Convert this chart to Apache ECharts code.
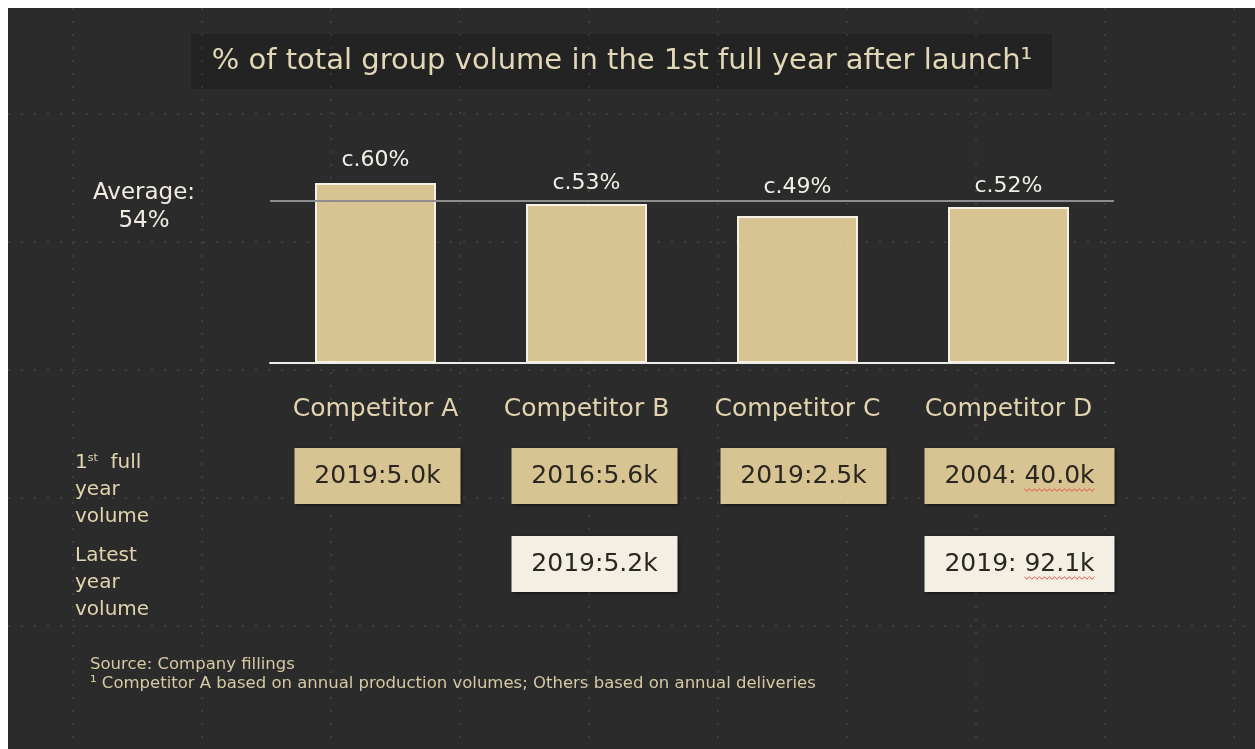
<!DOCTYPE html>
<html>
<head>
<meta charset="utf-8">
<title>Share of group volume in first full year</title>
<script src="https://cdn.jsdelivr.net/npm/echarts@6/dist/echarts.min.js"></script>
<style>
  html, body { margin: 0; padding: 0; background: #ffffff; }
  #chart { width: 1255px; height: 749px; }
</style>
</head>
<body>
<div id="chart"></div>
<script>
// ---- data ----
const competitors = ['Competitor A', 'Competitor B', 'Competitor C', 'Competitor D'];
const firstYearShare = [60, 53, 49, 52];          // % of total group volume, 1st full year
const averageShare = 54;
const firstYearVolume = ['2019:5.0k', '2016:5.6k', '2019:2.5k', '2004: 40.0k'];
const latestYearVolume = [null, '2019:5.2k', null, '2019: 92.1k'];
const volumeRows = ['first', 'latest'];

// ---- styling ----
const FONT = '"DejaVu Sans", "Open Sans", sans-serif';
const BG = '#2b2b2b';
const BEIGE = '#d8c493';
const CREAM = '#f3efe3';
const TEXT_BEIGE = '#e1d4ae';
const BOX_FONT = 25;
const boxShift = [2, 8, 6, 11];      // horizontal nudge of each volume box
const labelGap = [12, 10, 18, 10];   // gap between bar top and its value label

const measureCtx = document.createElement('canvas').getContext('2d');
function textWidth(t, size) {
  measureCtx.font = size + 'px ' + FONT;
  return measureCtx.measureText(t).width;
}

const boxes = [];
firstYearVolume.forEach((t, i) => { if (t) boxes.push({ cat: i, row: 0, text: t }); });
latestYearVolume.forEach((t, i) => { if (t) boxes.push({ cat: i, row: 1, text: t }); });

function renderBox(params, api) {
  const b = boxes[params.dataIndex];
  const c = api.coord([api.value(0), api.value(1)]);
  const cx = c[0] + boxShift[b.cat];
  const cy = c[1];
  const tw = textWidth(b.text, BOX_FONT);
  const w = Math.round(tw + 40), h = 56;
  const children = [
    {
      type: 'rect',
      shape: { x: cx - w / 2, y: cy - h / 2, width: w, height: h },
      style: {
        fill: b.row === 0 ? BEIGE : CREAM,
        shadowBlur: 3, shadowColor: 'rgba(0,0,0,0.6)', shadowOffsetX: 1, shadowOffsetY: 1
      }
    },
    {
      type: 'text', x: cx, y: cy,
      style: { text: b.text, fill: '#2a2620', fontSize: BOX_FONT, fontFamily: FONT, align: 'center', verticalAlign: 'middle' }
    }
  ];
  // spell-check squiggle under the spaced figures
  const sep = b.text.indexOf(': ');
  if (sep >= 0) {
    const x0 = cx - tw / 2 + textWidth(b.text.slice(0, sep + 2), BOX_FONT);
    const x1 = cx + tw / 2;
    const pts = [];
    for (let x = x0, k = 0; x <= x1; x += 2.5, k++) pts.push([x, cy + 14 + (k % 2 ? 1.2 : -1.2)]);
    children.push({ type: 'polyline', shape: { points: pts }, style: { stroke: '#e2514a', lineWidth: 1, fill: null } });
  }
  return { type: 'group', children };
}

// ---- background decoration ----
const graphics = [
  { type: 'rect', z: -10, silent: true, shape: { x: 8, y: 8, width: 1247, height: 741 }, style: { fill: BG } },
  { type: 'rect', z: -5, silent: true, shape: { x: 191, y: 34, width: 861, height: 55 }, style: { fill: '#232323' } },
  {
    type: 'text', z: 5, x: 622, y: 61,
    style: { text: '% of total group volume in the 1st full year after launch\u00b9', fill: '#e2d7b6', fontSize: 29, fontFamily: FONT, align: 'center', verticalAlign: 'middle' }
  },
  {
    type: 'text', z: 5, x: 75, y: 449,
    style: {
      text: '{n|1}{sup|st}{n|  full}\n{n|year}\n{n|volume}',
      fill: TEXT_BEIGE, fontFamily: FONT, verticalAlign: 'top', align: 'left',
      rich: {
        n: { fontSize: 20, lineHeight: 27, fill: TEXT_BEIGE, fontFamily: FONT },
        sup: { fontSize: 11, lineHeight: 27, fill: TEXT_BEIGE, fontFamily: FONT, padding: [0, 0, 9, 0] }
      }
    }
  },
  {
    type: 'text', z: 5, x: 75, y: 542,
    style: { text: 'Latest\nyear\nvolume', fill: TEXT_BEIGE, fontSize: 20, lineHeight: 27, fontFamily: FONT, verticalAlign: 'top', align: 'left' }
  },
  {
    type: 'text', z: 5, x: 90, y: 674,
    style: {
      text: 'Source: Company fillings\n\u00b9 Competitor A based on annual production volumes; Others based on annual deliveries',
      fill: '#d6c9a3', fontSize: 16.5, lineHeight: 19, fontFamily: FONT, verticalAlign: 'middle', align: 'left'
    }
  }
];
// faint dotted slide guides
for (let x = 73; x < 1255; x += 129) {
  graphics.push({ type: 'line', z: 100, silent: true, shape: { x1: x, y1: 8, x2: x, y2: 749 }, style: { stroke: 'rgba(255,255,255,0.09)', lineWidth: 2, lineDash: [2, 11] } });
}
for (let y = 114; y < 749; y += 128) {
  graphics.push({ type: 'line', z: 100, silent: true, shape: { x1: 8, y1: y, x2: 1255, y2: y }, style: { stroke: 'rgba(255,255,255,0.09)', lineWidth: 2, lineDash: [2, 11] } });
}

const chart = echarts.init(document.getElementById('chart'), null, { renderer: 'canvas' });
chart.setOption({
  backgroundColor: '#ffffff',
  animation: false,
  textStyle: { fontFamily: FONT },
  graphic: graphics,
  grid: [
    { left: 270, width: 844, top: 63, height: 300 },
    { left: 270, width: 844, top: 432, height: 176 }
  ],
  xAxis: [
    {
      type: 'category', gridIndex: 0, data: competitors,
      axisLine: { lineStyle: { color: '#ececec', width: 2 } },
      axisTick: { show: false },
      axisLabel: { interval: 0, color: TEXT_BEIGE, fontSize: 25, margin: 34, fontFamily: FONT }
    },
    { type: 'category', gridIndex: 1, data: competitors, show: false }
  ],
  yAxis: [
    { type: 'value', gridIndex: 0, min: 0, max: 100, show: false, splitLine: { show: false } },
    { type: 'category', gridIndex: 1, data: volumeRows, inverse: true, show: false }
  ],
  series: [
    {
      type: 'bar', xAxisIndex: 0, yAxisIndex: 0,
      data: firstYearShare.map((v, i) => ({ value: v, label: { distance: labelGap[i] } })),
      barWidth: 121,
      itemStyle: { color: BEIGE, borderColor: '#f6f1e4', borderWidth: 2 },
      label: {
        show: true, position: 'top',
        formatter: 'c.{c}%', color: '#f2efe6', fontSize: 22, fontFamily: FONT
      },
      markLine: {
        silent: true, symbol: 'none',
        lineStyle: { color: '#8e8e8e', width: 2, type: 'solid' },
        label: {
          position: 'start', distance: 126, align: 'center',
          formatter: p => '{s|}\n{a|Average:}\n{a|' + p.value + '%}',
          rich: {
            s: { lineHeight: 12, fontSize: 10 },
            a: { color: '#f0ece2', fontSize: 23, lineHeight: 28, fontFamily: FONT, align: 'center' }
          }
        },
        data: [{ yAxis: averageShare }]
      }
    },
    {
      type: 'custom', xAxisIndex: 1, yAxisIndex: 1, clip: false,
      data: boxes.map(b => [b.cat, b.row]),
      renderItem: renderBox
    }
  ]
});
</script>
</body>
</html>
